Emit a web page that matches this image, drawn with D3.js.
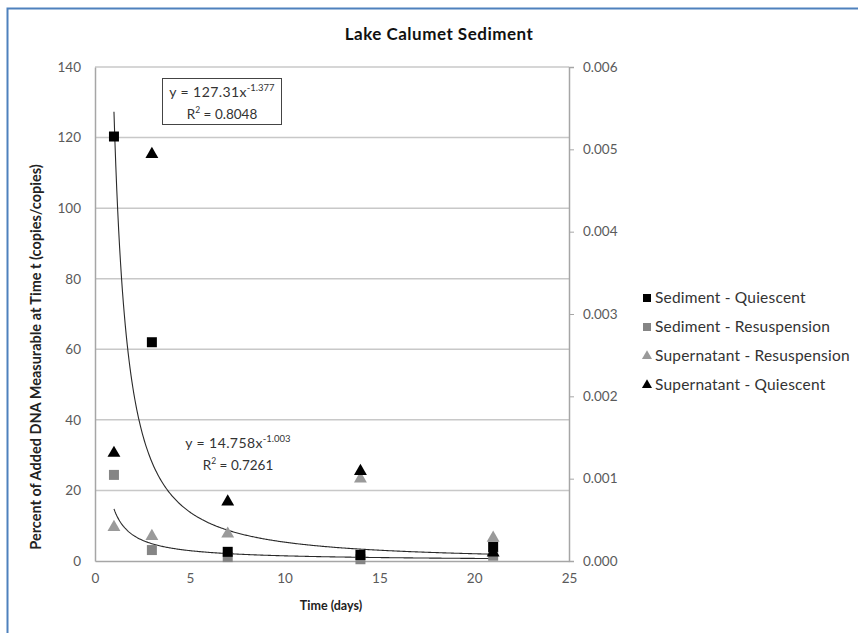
<!DOCTYPE html>
<html>
<head>
<meta charset="utf-8">
<script src="https://cdn.jsdelivr.net/npm/d3@7"></script>
<style>
  html, body { margin: 0; padding: 0; background: #fff; }
  svg { display: block; font-family: Lato, "Open Sans", sans-serif; }
</style>
</head>
<body>
<svg id="chart" width="858" height="633"></svg>
<script>
// Sampling days
const days = [1, 3, 7, 14, 21];

// Sediment series (primary axis, percent)
const sedimentQuiescent   = [120.3, 62.0, 2.6, 1.7, 4.0];
const sedimentResuspension = [24.4, 3.1, 1.1, 0.5, 1.5];

// Supernatant series (secondary axis, copies/copies)
const supernatantResuspension = [0.00041, 0.00030, 0.00033, 0.00100, 0.00028];
const supernatantQuiescent    = [0.00131, 0.00494, 0.00072, 0.00109, 0.00010];

// Power-law trendlines y = a * x^b
const trendA = [127.31, 14.758];
const trendB = [-1.377, -1.003];
const trendR2 = ["0.8048", "0.7261"];

const xTicks = [0, 5, 10, 15, 20, 25];
const yTicks = [0, 20, 40, 60, 80, 100, 120, 140];
const y2Ticks = [0, 0.001, 0.002, 0.003, 0.004, 0.005, 0.006];

const seriesNames = ["Sediment - Quiescent", "Sediment - Resuspension",
                     "Supernatant - Resuspension", "Supernatant - Quiescent"];

const svg = d3.select("#chart");

const plot = { left: 95, right: 569, top: 67, bottom: 561 };

const x = d3.scaleLinear().domain([0, 25]).range([plot.left, plot.right]);
const y = d3.scaleLinear().domain([0, 140]).range([plot.bottom, plot.top]);
const y2 = d3.scaleLinear().domain([0, 0.006]).range([plot.bottom, plot.top]);

// Outer frame
svg.append("rect")
  .attr("x", 7.5).attr("y", 8.5)
  .attr("width", 870).attr("height", 640)
  .attr("fill", "#fff")
  .attr("stroke", "#4f81bd").attr("stroke-width", 2);

// Title
svg.append("text")
  .attr("x", 439).attr("y", 40)
  .attr("text-anchor", "middle")
  .attr("font-size", 17).attr("font-weight", "bold")
  .attr("letter-spacing", 0.5)
  .attr("fill", "#111")
  .text("Lake Calumet Sediment");

// Horizontal gridlines
svg.append("g")
  .selectAll("line")
  .data(yTicks.filter(d => d > 0))
  .join("line")
  .attr("x1", plot.left).attr("x2", plot.right)
  .attr("y1", d => y(d)).attr("y2", d => y(d))
  .attr("stroke", "#c8c8c8").attr("stroke-width", 1.5);

// Axes
const axisColor = "#a6a6a6";
const labelColor = "#5a5a5a";

const gx = svg.append("g")
  .attr("transform", `translate(0,${plot.bottom})`)
  .call(d3.axisBottom(x).tickValues(xTicks).tickSize(0).tickPadding(12));
const gy = svg.append("g")
  .attr("transform", `translate(${plot.left},0)`)
  .call(d3.axisLeft(y).tickValues(yTicks).tickSize(0).tickPadding(14));
const gy2 = svg.append("g")
  .attr("transform", `translate(${plot.right},0)`)
  .call(d3.axisRight(y2).tickValues(y2Ticks).tickSize(5).tickPadding(9)
    .tickFormat(d3.format(".3f")));

[gx, gy, gy2].forEach(g => {
  g.select(".domain").attr("stroke", axisColor).attr("stroke-width", 1.5);
  g.selectAll(".tick line").attr("stroke", axisColor);
  g.selectAll(".tick text")
    .attr("fill", labelColor)
    .attr("font-size", 13.5)
    .attr("font-family", "Lato, 'Open Sans', sans-serif");
});

// Axis titles
svg.append("text")
  .attr("x", 331).attr("y", 610)
  .attr("text-anchor", "middle")
  .attr("font-size", 12.5).attr("font-weight", "bold")
  .attr("fill", "#222")
  .text("Time (days)");

svg.append("text")
  .attr("transform", `translate(41,357) rotate(-90)`)
  .attr("text-anchor", "middle")
  .attr("font-size", 14.5).attr("font-weight", "bold")
  .attr("fill", "#222")
  .text("Percent of Added DNA Measurable at Time t (copies/copies)");

// Trendlines
const line = d3.line().x(d => x(d[0])).y(d => y(d[1]));
trendA.forEach((a, i) => {
  const pts = d3.range(1, 21.001, 0.05).map(t => [t, a * Math.pow(t, trendB[i])]);
  svg.append("path")
    .attr("d", line(pts))
    .attr("fill", "none")
    .attr("stroke", "#2a2a2a")
    .attr("stroke-width", 1.1);
});

// Markers
const squareSym = d3.symbol().type(d3.symbolSquare).size(100);
const triSym = d3.symbol().type(d3.symbolTriangle).size(72);

const markerDefs = [
  { values: sedimentQuiescent,        scale: y,  sym: squareSym, color: "#000" },
  { values: sedimentResuspension,     scale: y,  sym: squareSym, color: "#858585" },
  { values: supernatantResuspension,  scale: y2, sym: triSym,    color: "#9a9a9a" },
  { values: supernatantQuiescent,     scale: y2, sym: triSym,    color: "#000" }
];

// Draw in an order that keeps the black triangles on top
[markerDefs[2], markerDefs[1], markerDefs[0], markerDefs[3]].forEach(m => {
  svg.append("g")
    .selectAll("path")
    .data(days.map((d, i) => [d, m.values[i]]))
    .join("path")
    .attr("d", m.sym)
    .attr("transform", d => `translate(${x(d[0])},${m.scale(d[1])})`)
    .attr("fill", m.color);
});

// Trendline equation labels
function equation(g, cx, cy, a, b, r2) {
  const t1 = g.append("text")
    .attr("x", cx).attr("y", cy)
    .attr("text-anchor", "middle")
    .attr("font-size", 14).attr("letter-spacing", 0.4).attr("fill", "#333");
  t1.append("tspan").text(`y = ${a}x`);
  t1.append("tspan").attr("dy", -6).attr("font-size", 9.5).attr("letter-spacing", 0).text(b);
  const t2 = g.append("text")
    .attr("x", cx).attr("y", cy + 22)
    .attr("text-anchor", "middle")
    .attr("font-size", 13.5).attr("fill", "#333");
  t2.append("tspan").text("R");
  t2.append("tspan").attr("dy", -6).attr("font-size", 8.5).text("2");
  t2.append("tspan").attr("dy", 6).text(` = ${r2}`);
}

const eq1 = svg.append("g");
eq1.append("rect")
  .attr("x", 162.5).attr("y", 78.5)
  .attr("width", 119).attr("height", 46)
  .attr("fill", "#fff").attr("stroke", "#444").attr("stroke-width", 1);
equation(eq1, 222, 97, "127.31", "-1.377", trendR2[0]);

const eq2 = svg.append("g");
equation(eq2, 238, 448, "14.758", "-1.003", trendR2[1]);

// Legend
const legend = svg.append("g");
const legendRows = [298, 327, 356, 385];
legendRows.forEach((ry, i) => {
  const m = markerDefs[i];
  legend.append("path")
    .attr("d", m.sym === squareSym
      ? d3.symbol().type(d3.symbolSquare).size(64)()
      : d3.symbol().type(d3.symbolTriangle).size(44)())
    .attr("transform", `translate(647,${ry})`)
    .attr("fill", m.color);
  legend.append("text")
    .attr("x", 655).attr("y", ry + 5)
    .attr("font-size", 15.5).attr("letter-spacing", 0.2).attr("fill", "#333")
    .text(seriesNames[i]);
});
</script>
</body>
</html>
